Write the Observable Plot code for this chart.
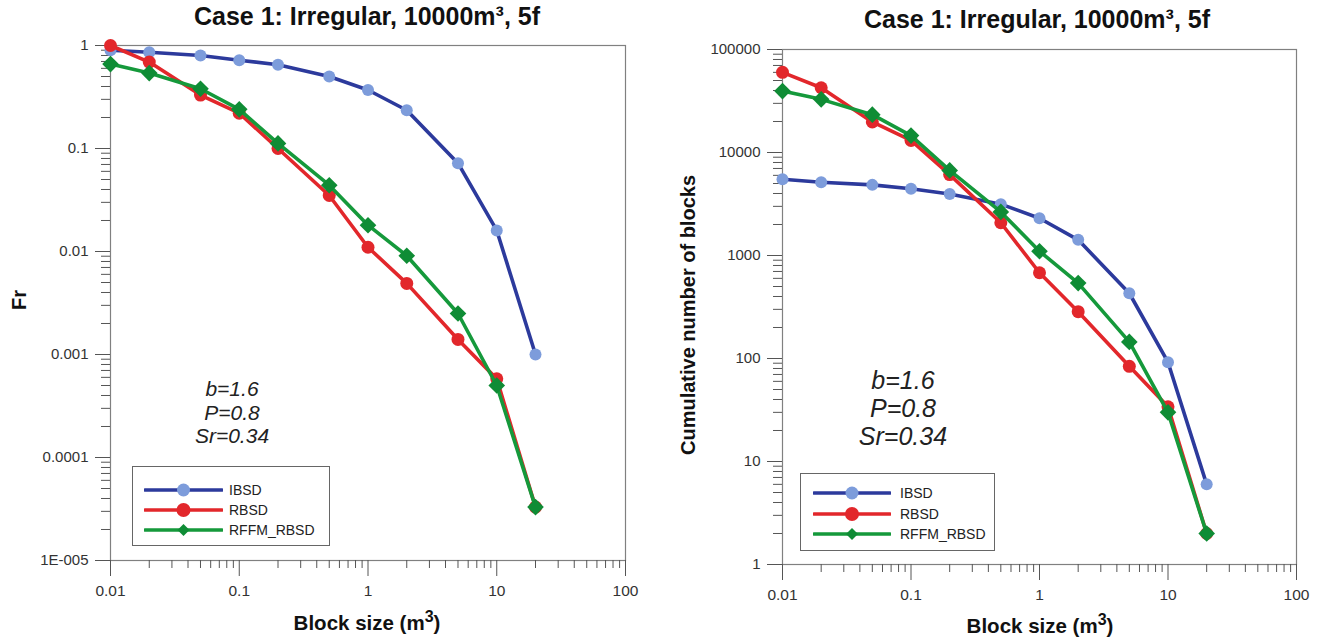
<!DOCTYPE html>
<html>
<head>
<meta charset="utf-8">
<script src="https://cdn.jsdelivr.net/npm/d3@7"></script>
<script src="https://cdn.jsdelivr.net/npm/@observablehq/plot@0.6"></script>
<style>
  html, body { margin: 0; padding: 0; background: #fff; }
  body { width: 1322px; height: 644px; overflow: hidden; font-family: "Liberation Sans", Arial, sans-serif; }
  #wrap { position: relative; width: 1322px; height: 644px; }
  .panel { position: absolute; top: 0; }
  .title { position: absolute; font-weight: bold; font-size: 25px; color: #111; white-space: nowrap; transform: translateX(-50%); line-height: 1.15; }
  .xlabel { position: absolute; font-weight: bold; font-size: 20.5px; color: #111; white-space: nowrap; transform: translateX(-50%); line-height: 1.15; }
  .xlabel sup { font-size: 16px; vertical-align: 8px; line-height: 0; }
  .ylabel { position: absolute; font-weight: bold; font-size: 20px; color: #111; white-space: nowrap; transform: translate(-50%, -50%) rotate(-90deg); }
  .note { position: absolute; font-style: italic; color: #222; text-align: center; transform: translateX(-50%); white-space: nowrap; }
  .legend { position: absolute; border: 1px solid #666; background: #fff; box-sizing: border-box; }
  .legend .row { position: absolute; left: 0; height: 16px; display: flex; align-items: center; font-size: 14px; color: #222; white-space: nowrap; }
  .legend svg { display: block; flex: none; }
</style>
</head>
<body>
<div id="wrap"></div>
<script>
// ---- data ----
const sizes = [0.01, 0.02, 0.05, 0.1, 0.2, 0.5, 1, 2, 5, 10, 20];
const seriesNames = ["IBSD", "RBSD", "RFFM_RBSD"];

// left panel: Fr
const frIBSD = [0.9, 0.86, 0.8, 0.72, 0.65, 0.5, 0.37, 0.235, 0.072, 0.016, 0.001];
const frRBSD = [1.0, 0.69, 0.33, 0.22, 0.1, 0.035, 0.011, 0.0049, 0.0014, 0.00058, 0.000033];
const frRFFM = [0.66, 0.54, 0.38, 0.24, 0.112, 0.044, 0.018, 0.0091, 0.0025, 0.0005, 0.000033];

// right panel: cumulative number of blocks
const nIBSD = [5500, 5150, 4850, 4450, 3950, 3150, 2300, 1420, 430, 92, 6];
const nRBSD = [60000, 42500, 19800, 13100, 6100, 2080, 680, 285, 84, 34, 2];
const nRFFM = [39500, 32800, 23300, 14600, 6700, 2650, 1100, 540, 145, 30, 2];

const xTicks = [0.01, 0.1, 1, 10, 100];
const xTickLabels = ["0.01", "0.1", "1", "10", "100"];
const frTicks = [1, 0.1, 0.01, 0.001, 0.0001, 0.00001];
const frTickLabels = ["1", "0.1", "0.01", "0.001", "0.0001", "1E-005"];
const nTicks = [1, 10, 100, 1000, 10000, 100000];
const nTickLabels = ["1", "10", "100", "1000", "10000", "100000"];

const titleText = "Case 1: Irregular, 10000m\u00B3, 5f";
const noteLines = ["b=1.6", "P=0.8", "Sr=0.34"];

// ---- styles ----
const lineColors = {IBSD: "#2c3a9c", RBSD: "#e2272b", RFFM_RBSD: "#15993b"};
const markFill = {IBSD: "#7d9cdb", RBSD: "#e2272b", RFFM_RBSD: "#0f8c35"};
const markSymbol = {IBSD: "circle", RBSD: "circle", RFFM_RBSD: "diamond2"};
const markR = {IBSD: 6, RBSD: 6.5, RFFM_RBSD: 7.5};

function minorTicks(lo, hi) {
  const out = [];
  for (let e = lo; e < hi; e++) for (let k = 2; k <= 9; k++) out.push(k * Math.pow(10, e));
  return out;
}

function rowsFor(arrs) {
  const rows = [];
  seriesNames.forEach((s, j) => sizes.forEach((x, i) => rows.push({series: s, size: x, value: arrs[j][i]})));
  return rows;
}

function labeler(ticks, labels) {
  return d => {
    let best = 0, bd = Infinity;
    ticks.forEach((t, i) => { const dd = Math.abs(Math.log10(t) - Math.log10(d)); if (dd < bd) { bd = dd; best = i; } });
    return labels[best];
  };
}

function makePanel(rows, o) {
  const marks = [
    Plot.frame({stroke: "#808080", strokeWidth: 1.2}),
    Plot.axisX(xTicks, {tickSize: 16, tickPadding: 8, tickFormat: labeler(xTicks, xTickLabels), stroke: "#555", fill: "#333", fontSize: 15.5, label: null}),
    Plot.axisX(minorTicks(-2, 2), {tickSize: 8, tickFormat: () => "", stroke: "#555", label: null}),
    Plot.axisY(o.yTicks, {tickSize: 15, tickPadding: 7, tickFormat: labeler(o.yTicks, o.yLabels), stroke: "#555", fill: "#333", fontSize: 15, label: null}),
    Plot.axisY(minorTicks(o.yLo, o.yHi), {tickSize: 9, tickFormat: () => "", stroke: "#555", label: null})
  ];
  seriesNames.forEach(s => {
    const d = rows.filter(r => r.series === s);
    marks.push(Plot.line(d, {x: "size", y: "value", stroke: lineColors[s], strokeWidth: 3.6}));
    marks.push(Plot.dot(d, {x: "size", y: "value", fill: markFill[s], symbol: markSymbol[s], r: markR[s], stroke: "none"}));
  });
  return Plot.plot({
    width: 661, height: 644,
    marginLeft: o.ml, marginRight: o.mr, marginTop: o.mt, marginBottom: o.mb,
    style: {fontFamily: "'Liberation Sans', Arial, sans-serif", fontSize: "15px", background: "transparent", overflow: "visible", color: "#333"},
    x: {type: "log", domain: [0.01, 100], label: null},
    y: {type: "log", domain: o.yDomain, label: null},
    marks
  });
}

const wrap = document.getElementById("wrap");

function addPanel(left, plot) {
  plot.classList.add("panel");
  plot.style.left = left + "px";
  wrap.appendChild(plot);
}

function addDiv(cls, html, css) {
  const d = document.createElement("div");
  d.className = cls;
  d.innerHTML = html;
  Object.assign(d.style, css);
  wrap.appendChild(d);
  return d;
}

function addLegend(x, y, w, h, lineX0, lineX1, textX, rowYs) {
  const lg = addDiv("legend", "", {left: x + "px", top: y + "px", width: w + "px", height: h + "px"});
  seriesNames.forEach((s, i) => {
    const row = document.createElement("div");
    row.className = "row";
    row.style.top = (rowYs[i] - y - 8) + "px";
    const lw = lineX1 - lineX0;
    const mid = lw / 2;
    let marker;
    if (markSymbol[s] === "circle") {
      marker = `<circle cx="${mid}" cy="8" r="${s === "IBSD" ? 6.5 : 7}" fill="${markFill[s]}"/>`;
    } else {
      marker = `<path d="M${mid},2 L${mid + 6},8 L${mid},14 L${mid - 6},8 Z" fill="${markFill[s]}"/>`;
    }
    row.innerHTML = `<svg width="${lw}" height="16" style="margin-left:${lineX0 - x}px"><line x1="1" y1="8" x2="${lw - 1}" y2="8" stroke="${lineColors[s]}" stroke-width="3.6" stroke-linecap="round"/>${marker}</svg><span style="margin-left:${textX - lineX1}px">${s}</span>`;
    lg.appendChild(row);
  });
}

// ---- left panel ----
addPanel(0, makePanel(rowsFor([frIBSD, frRBSD, frRFFM]), {
  ml: 110, mr: 36, mt: 45, mb: 84,
  yDomain: [0.00001, 1], yTicks: frTicks, yLabels: frTickLabels, yLo: -5, yHi: 0
}));
addDiv("title", titleText, {left: "367px", top: "2px"});
addDiv("xlabel", "Block size (m<sup>3</sup>)", {left: "367px", top: "611px"});
addDiv("ylabel", "Fr", {left: "19px", top: "300px"});
addDiv("note", noteLines.join("<br>"), {left: "232px", top: "377px", fontSize: "21px", lineHeight: "23.5px"});
addLegend(132, 466, 198, 80, 143, 222, 228, [489, 509, 529]);

// ---- right panel ----
addPanel(661, makePanel(rowsFor([nIBSD, nRBSD, nRFFM]), {
  ml: 121, mr: 26, mt: 49, mb: 80,
  yDomain: [1, 100000], yTicks: nTicks, yLabels: nTickLabels, yLo: 0, yHi: 5
}));
addDiv("title", titleText, {left: "1037px", top: "5px"});
addDiv("xlabel", "Block size (m<sup>3</sup>)", {left: "1040px", top: "614px"});
addDiv("ylabel", "Cumulative number of blocks", {left: "688px", top: "315px"});
addDiv("note", noteLines.join("<br>"), {left: "903px", top: "366px", fontSize: "25px", lineHeight: "28px"});
addLegend(800, 473, 195, 78, 812, 890, 899, [492, 513, 533]);
</script>
</body>
</html>
